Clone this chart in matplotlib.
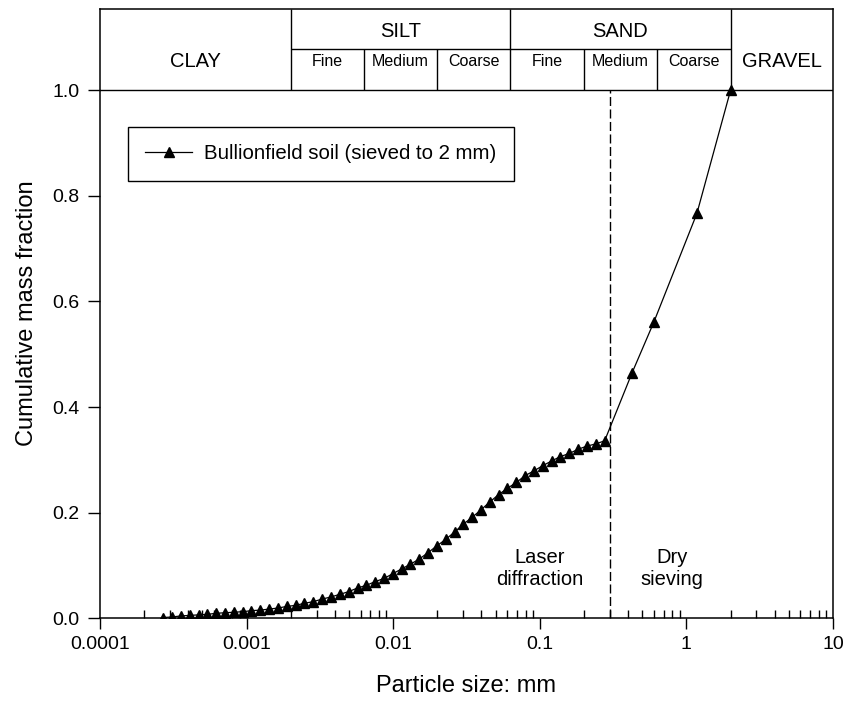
import matplotlib.pyplot as plt
from matplotlib.ticker import FixedLocator, LogLocator, NullFormatter

plt.rcParams['font.family'] = ['Liberation Sans', 'DejaVu Sans']

# laser diffraction bins (mm) and cumulative fraction
laser_size = [0.000270, 0.000310, 0.000357, 0.000410, 0.000471, 0.000541, 0.000621,
              0.000713, 0.000820, 0.000942, 0.00108, 0.00124, 0.00143, 0.00164,
              0.00188, 0.00216, 0.00248, 0.00285, 0.00328, 0.00377, 0.00433,
              0.00497, 0.00571, 0.00656, 0.00753, 0.00865, 0.00993, 0.0114,
              0.0131, 0.0151, 0.0173, 0.0199, 0.0228, 0.0262, 0.0301, 0.0346,
              0.0397, 0.0456, 0.0524, 0.0602, 0.0692, 0.0795, 0.0913, 0.105,
              0.121, 0.138, 0.159, 0.183, 0.210, 0.241, 0.277]
laser_frac = [0.001, 0.002, 0.004, 0.005, 0.006, 0.007, 0.009, 0.010, 0.011, 0.012,
              0.014, 0.015, 0.017, 0.019, 0.022, 0.024, 0.028, 0.031, 0.036, 0.040,
              0.045, 0.050, 0.057, 0.062, 0.069, 0.075, 0.084, 0.093, 0.102, 0.112,
              0.124, 0.137, 0.149, 0.163, 0.178, 0.191, 0.205, 0.220, 0.234, 0.246,
              0.257, 0.270, 0.279, 0.289, 0.298, 0.306, 0.312, 0.320, 0.326, 0.330,
              0.336]

# dry sieving
sieve_size = [0.425, 0.6, 1.18, 2.0]
sieve_frac = [0.464, 0.561, 0.767, 1.0]

# soil texture classes for the header
main_classes = ['CLAY', 'SILT', 'SAND', 'GRAVEL']
main_edges = [0.0001, 0.002, 0.063, 2.0, 10.0]
sub_classes = ['Fine', 'Medium', 'Coarse', 'Fine', 'Medium', 'Coarse']
sub_edges = [0.002, 0.0063, 0.02, 0.063, 0.2, 0.63, 2.0]

method_split = 0.3
y_top = 1.1545
y_row = 1.078

fig = plt.figure(figsize=(8.46, 7.06), dpi=100)
ax = fig.add_axes([0.1182, 0.1246, 0.8664, 0.8627])

size = laser_size + sieve_size
frac = laser_frac + sieve_frac
ax.plot(size, frac, color='black', lw=0.9, marker='^', markersize=7,
        markerfacecolor='black', markeredgecolor='black',
        label='Bullionfield soil (sieved to 2 mm)')

ax.vlines(method_split, 0, 1.0, colors='black', lw=1.0, linestyles=(0, (6.5, 2.5)))

# header table
ax.axhline(1.0, color='black', lw=1.0)
ax.hlines(y_row, sub_edges[0], sub_edges[-1], colors='black', lw=1.0)
ax.vlines(main_edges[1:-1], 1.0, y_top, colors='black', lw=1.0)
ax.vlines([e for e in sub_edges[1:-1] if e not in main_edges], 1.0, y_row,
          colors='black', lw=1.0)
for i, name in enumerate(main_classes):
    xc = (main_edges[i] * main_edges[i + 1]) ** 0.5
    if name in ('SILT', 'SAND'):
        ax.text(xc, 1.112, name, ha='center', va='center', fontsize=14.5)
    else:
        ax.text(xc, 1.055, name, ha='center', va='center', fontsize=14.5)
for i, name in enumerate(sub_classes):
    xc = (sub_edges[i] * sub_edges[i + 1]) ** 0.5
    ax.text(xc, 1.054, name, ha='center', va='center', fontsize=11.5)

ax.text(0.1, 0.094, 'Laser\ndiffraction', ha='center', va='center', fontsize=14.5,
        linespacing=1.15)
ax.text(0.8, 0.094, 'Dry\nsieving', ha='center', va='center', fontsize=14.5,
        linespacing=1.15)

ax.set_xscale('log')
ax.set_xlim(0.0001, 10)
ax.set_ylim(0, y_top)
ax.xaxis.set_major_locator(FixedLocator([0.0001, 0.001, 0.01, 0.1, 1, 10]))
ax.set_xticklabels(['0.0001', '0.001', '0.01', '0.1', '1', '10'])
ax.xaxis.set_minor_locator(LogLocator(base=10, subs=range(2, 10)))
ax.xaxis.set_minor_formatter(NullFormatter())
ax.set_yticks([0, 0.2, 0.4, 0.6, 0.8, 1.0])
ax.set_yticklabels(['0.0', '0.2', '0.4', '0.6', '0.8', '1.0'])

ax.tick_params(axis='x', which='major', direction='out', length=8, width=1,
               labelsize=14, pad=5)
ax.tick_params(axis='x', which='minor', direction='in', length=6, width=1)
ax.tick_params(axis='y', direction='out', length=9, width=1, labelsize=14, pad=6)
for s in ax.spines.values():
    s.set_linewidth(1.1)

ax.set_xlabel('Particle size: mm', fontsize=17, labelpad=16)
ax.set_ylabel('Cumulative mass fraction', fontsize=17, labelpad=10)

leg = ax.legend(loc='upper left', bbox_to_anchor=(0.038, 0.806), borderaxespad=0,
                fontsize=14.7, fancybox=False, edgecolor='black', framealpha=1,
                handlelength=2.3, handletextpad=0.58, borderpad=0.85)
leg.get_frame().set_linewidth(1.0)

fig.savefig('out.png', dpi=100)
